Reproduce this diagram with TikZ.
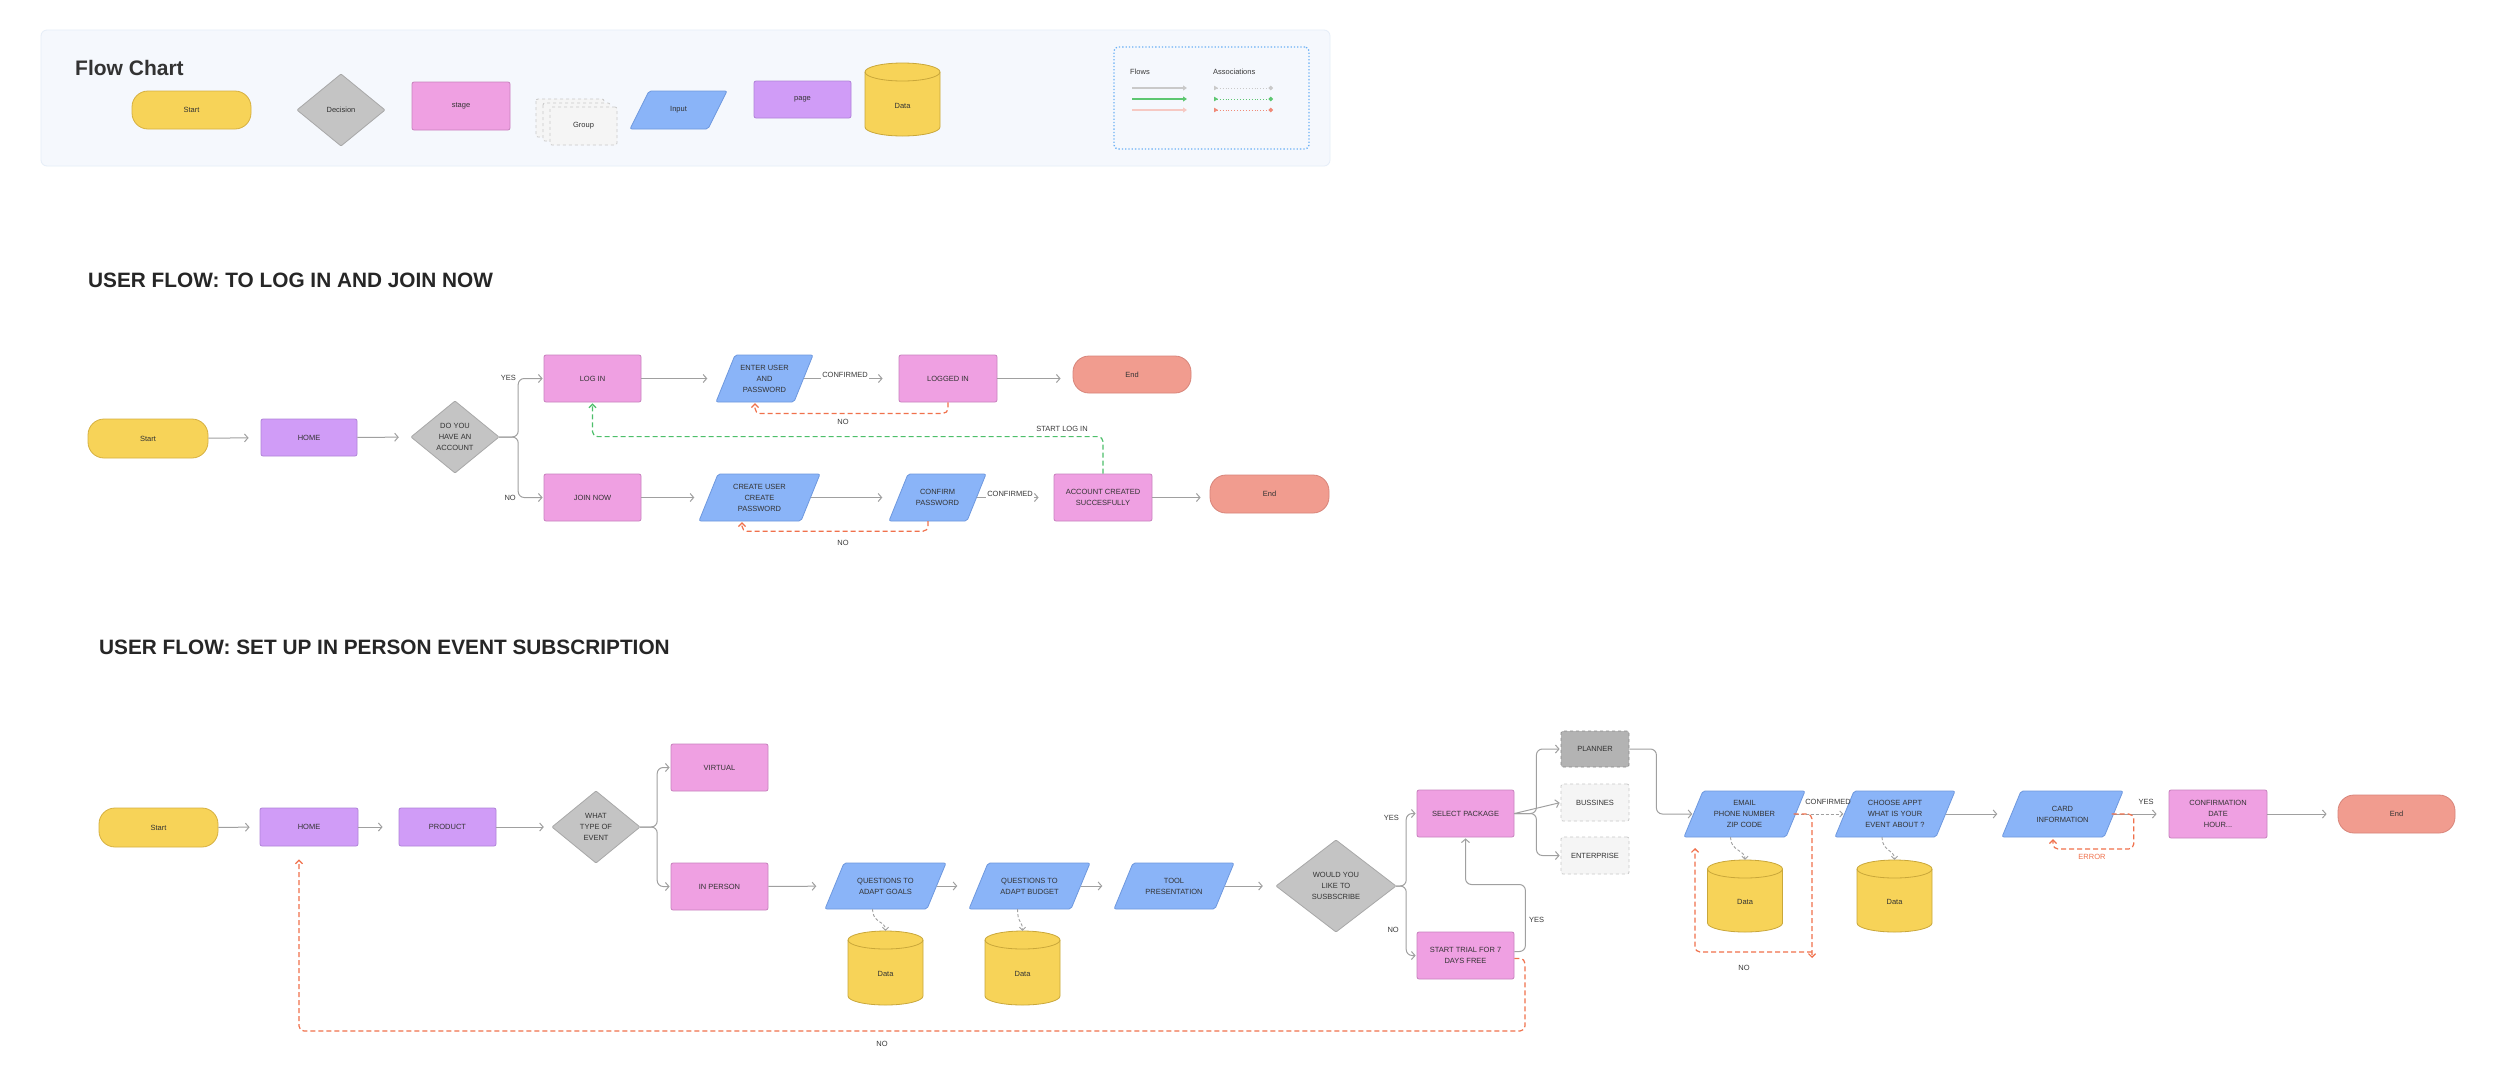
\documentclass[tikz,border=0pt]{standalone}
\usepackage{fontspec}
\setmainfont{Liberation Sans}
\usetikzlibrary{arrows.meta,calc}
\definecolor{txtc}{HTML}{333333}
\definecolor{lblc}{HTML}{3A3A3A}
\definecolor{yelF}{HTML}{F7D358}
\definecolor{yelB}{HTML}{D6B040}
\definecolor{cylB}{HTML}{C9A73A}
\definecolor{diaF}{HTML}{C4C4C4}
\definecolor{diaB}{HTML}{A8A8A8}
\definecolor{pinkF}{HTML}{EFA0E2}
\definecolor{pinkB}{HTML}{C882BE}
\definecolor{purF}{HTML}{D09CF7}
\definecolor{purB}{HTML}{B083D8}
\definecolor{bluF}{HTML}{8AB4F8}
\definecolor{bluB}{HTML}{6E98DE}
\definecolor{salF}{HTML}{F19C8F}
\definecolor{salB}{HTML}{D8857A}
\definecolor{panF}{HTML}{F5F8FD}
\definecolor{panB}{HTML}{E5EDF8}
\definecolor{legB}{HTML}{6BB0F5}
\definecolor{arrg}{HTML}{A0A0A0}
\definecolor{grnc}{HTML}{4DBF6A}
\definecolor{redc}{HTML}{F0714C}
\definecolor{plF}{HTML}{B3B3B3}
\definecolor{plB}{HTML}{8A8A8A}
\definecolor{ltF}{HTML}{F5F5F5}
\definecolor{ltB}{HTML}{C9C9C9}
\definecolor{lgGray}{HTML}{C9C9C9}
\definecolor{lgGreen}{HTML}{5DC771}
\definecolor{lgPink}{HTML}{F6C9C3}
\definecolor{lgRed}{HTML}{F08A78}
% parallelogram: name, cx, cy, w, h, text
\newcommand\Inp[6]{%
  \filldraw[inpsty] (#2-#4/2,#3+#5/2) -- (#2+#4/2-19,#3+#5/2) -- (#2+#4/2,#3-#5/2) -- (#2-#4/2+19,#3-#5/2) -- cycle;
  \node[txt, minimum width=#4-19, minimum height=#5] (#1) at (#2,#3) {#6};}
% diamond: name, cx, cy, hw, hh, text
\newcommand\Dia[6]{%
  \filldraw[diasty] (#2-#4,#3) -- (#2,#3-#5) -- (#2+#4,#3) -- (#2,#3+#5) -- cycle;
  \node[txt, minimum width=2*#4, minimum height=2*#5] (#1) at (#2,#3) {#6};}
% cylinder: name, cx, cy, w, h, text
\newcommand\Cyl[6]{%
  \filldraw[cylsty] (#2-#4/2,#3-#5/2+9) -- (#2-#4/2,#3+#5/2-9) arc[start angle=180, end angle=0, x radius=#4/2, y radius=9] -- (#2+#4/2,#3-#5/2+9) arc[start angle=0, end angle=-180, x radius=#4/2, y radius=9] -- cycle;
  \draw[cylsty, fill=none] (#2+#4/2,#3-#5/2+9) arc[start angle=0, end angle=180, x radius=#4/2, y radius=9];
  \node[minimum width=#4, minimum height=#5, inner sep=0pt] (#1) at (#2,#3) {};
  \node[txt] (#1t) at (#2,#3+6) {#6};}
\begin{document}
\begin{tikzpicture}[x=1pt,y=-1pt,
 txt/.style={font=\fontsize{7.5}{11}\selectfont, text=txtc, align=center, inner sep=0pt},
 lbl/.style={font=\fontsize{7.5}{9}\selectfont, text=lblc, inner sep=0pt},
 head/.style={font=\fontsize{20.8}{25}\selectfont\bfseries, text=black!85, inner sep=0pt, anchor=base west},
 term/.style={txt, draw=yelB, fill=yelF, line width=0.8pt, rounded corners=16pt},
 endbox/.style={term, draw=salB, fill=salF},
 stagebox/.style={txt, draw=pinkB, fill=pinkF, line width=0.8pt, rounded corners=2pt},
 pagebox/.style={txt, draw=purB, fill=purF, line width=0.8pt, rounded corners=2pt},
 inpsty/.style={draw=bluB, fill=bluF, line width=0.8pt, rounded corners=2pt},
 diasty/.style={draw=diaB, fill=diaF, line width=0.8pt, rounded corners=1pt},
 cylsty/.style={draw=cylB, fill=yelF, line width=0.8pt},
 optdark/.style={txt, draw=plB, fill=plF, dashed, line width=0.8pt, rounded corners=2pt},
 optlight/.style={txt, draw=ltB, fill=ltF, dashed, line width=0.8pt, rounded corners=2pt},
 grpbox/.style={draw=ltB, fill=ltF, dashed, line width=0.8pt, rounded corners=2pt},
 flow/.style={draw=arrg, line width=1pt, -{Straight Barb[length=3.5pt,width=8pt]}, shorten >=12pt},
 branch/.style={flow, rounded corners=6pt, shorten >=1pt},
 reddash/.style={draw=redc, line width=1.2pt, dash pattern=on 5pt off 3pt, -{Straight Barb[length=3.5pt,width=7pt]}, rounded corners=5pt},
 greendash/.style={reddash, draw=grnc},
 assoc/.style={draw=arrg, line width=0.9pt, dash pattern=on 3pt off 2pt, -{Straight Barb[length=3pt,width=6pt]}},
 whitelbl/.style={lbl, fill=white, inner sep=1.5pt},
]
\useasboundingbox (0,0) rectangle (2500,1085);
\fill[white] (0,0) rectangle (2500,1085);

% ---------------- legend panel ----------------
\filldraw[draw=panB, fill=panF, line width=0.8pt, rounded corners=6pt] (41,30) rectangle (1330,166);
\node[font=\fontsize{21}{25}\selectfont\bfseries, text=black!80, inner sep=0pt, anchor=base west] (title) at (75,75) {Flow Chart};
\node[term, minimum width=119, minimum height=38] (lgstart) at (191.5,110) {Start};
\Dia{lgdec}{341}{110}{44}{36}{Decision}
\node[stagebox, minimum width=98, minimum height=48] (lgstage) at (461,106) {stage};
\filldraw[grpbox] (536,99) rectangle (604,137);
\filldraw[grpbox] (543,103) rectangle (610,141);
\node[grpbox, txt, minimum width=67, minimum height=38] (lggroup) at (583.5,126) {Group};
\Inp{lginput}{678.5}{110}{97}{38}{Input}
\node[pagebox, minimum width=97, minimum height=37] (lgpage) at (802.5,99.5) {page};
\Cyl{lgdata}{902.5}{99.5}{75}{73}{Data}
\node[draw=legB, line width=1.3pt, dotted, rounded corners=4pt, minimum width=195, minimum height=102, inner sep=0pt] (lgbox) at (1211.5,98) {};
\node[lbl, anchor=west] (lgflows) at (1130,72) {Flows};
\node[lbl, anchor=west] (lgassoc) at (1213,72) {Associations};
\coordinate (fa1) at (1132,88); \coordinate (fb1) at (1187,88);
\coordinate (fa2) at (1132,99); \coordinate (fb2) at (1187,99);
\coordinate (fa3) at (1132,110); \coordinate (fb3) at (1187,110);
\draw[draw=lgGray, line width=1.2pt, -{Triangle[length=4pt,width=5pt]}] (fa1) -- (fb1);
\draw[draw=lgGreen, line width=1.2pt, -{Triangle[length=4pt,width=5pt]}] (fa2) -- (fb2);
\draw[draw=lgPink, line width=1.2pt, -{Triangle[length=4pt,width=5pt]}] (fa3) -- (fb3);
\coordinate (aa1) at (1214,88); \coordinate (ab1) at (1273,88);
\coordinate (aa2) at (1214,99); \coordinate (ab2) at (1273,99);
\coordinate (aa3) at (1214,110); \coordinate (ab3) at (1273,110);
\draw[draw=lgGray, line width=0.9pt, dotted, {Triangle[length=4pt,width=4.5pt,reversed]}-{Circle[length=4.5pt]}] (aa1) -- (ab1);
\draw[draw=lgGreen, line width=0.9pt, dotted, {Triangle[length=4pt,width=4.5pt,reversed]}-{Circle[length=4.5pt]}] (aa2) -- (ab2);
\draw[draw=lgRed, line width=0.9pt, dotted, {Triangle[length=4pt,width=4.5pt,reversed]}-{Circle[length=4.5pt]}] (aa3) -- (ab3);

% ---------------- headings ----------------
\node[head] (h1) at (88,287) {USER FLOW: TO LOG IN AND JOIN NOW};
\node[head] (h2) at (99,654) {USER FLOW: SET UP IN PERSON EVENT SUBSCRIPTION};

% ---------------- flow 1 ----------------
\node[term, minimum width=120, minimum height=39] (s1) at (148,438.5) {Start};
\node[pagebox, minimum width=96, minimum height=37] (home1) at (309,437.5) {HOME};
\Dia{d1}{455}{437}{44}{36}{DO YOU\\HAVE AN\\ACCOUNT}
\node[stagebox, minimum width=97, minimum height=47] (login) at (592.5,378.5) {LOG IN};
\node[stagebox, minimum width=97, minimum height=47] (join) at (592.5,497.5) {JOIN NOW};
\Inp{enter}{764.5}{378.5}{97}{47}{ENTER USER\\AND\\PASSWORD}
\node[stagebox, minimum width=98, minimum height=47] (logged) at (948,378.5) {LOGGED IN};
\node[endbox, minimum width=118, minimum height=37] (end1) at (1132,374.5) {End};
\Inp{create}{759.5}{497.5}{121}{47}{CREATE USER\\CREATE\\PASSWORD}
\Inp{confirm}{937.5}{497.5}{97}{47}{CONFIRM\\PASSWORD}
\node[stagebox, minimum width=98, minimum height=47] (acct) at (1103,497.5) {ACCOUNT CREATED\\SUCCESFULLY};
\node[endbox, minimum width=119, minimum height=38] (end2) at (1269.5,494) {End};

\draw[flow] (s1) -- (home1);
\draw[flow] (home1) -- (d1);
\draw[branch] (d1.east) -- ++(19,0) |- (login.west);
\draw[branch] (d1.east) -- ++(19,0) |- (join.west);
\node[lbl, anchor=east] (yes1) at (516,378) {YES};
\node[lbl, anchor=east] (no1) at (516,498) {NO};
\draw[flow, shorten >=18pt] (login) -- (enter);
\draw[flow, shorten >=16pt] (enter) -- (logged);
\node[whitelbl] (conf1) at (845,375) {CONFIRMED};
\draw[flow] (logged) -- (end1.west |- logged.east);
\draw[flow, shorten >=14pt] (join) -- (create);
\draw[flow, shorten >=16pt] (create) -- (confirm);
\draw[flow, shorten >=15pt] (confirm) -- (acct);
\node[whitelbl] (conf2) at (1010,494) {CONFIRMED};
\draw[flow, shorten >=9pt] (acct) -- (end2.west |- acct.east);
\draw[reddash, shorten >=1pt] (logged.south) -- ++(0,11) -| ([xshift=-9.5pt]enter.south);
\node[lbl] (no2) at (843,422) {NO};
\draw[reddash, shorten >=1pt] ([xshift=-9.5pt]confirm.south) -- ++(0,10) -| ([xshift=-17.5pt]create.south);
\node[lbl] (no3) at (843,543) {NO};
\draw[greendash, shorten >=1pt] (acct.north) -- ++(0,-37) -| (login.south);
\node[lbl] (startlog) at (1062,429) {START LOG IN};

% ---------------- flow 2 ----------------
\node[term, minimum width=119, minimum height=39] (s2) at (158.5,827.5) {Start};
\node[pagebox, minimum width=98, minimum height=38] (home2) at (309,827) {HOME};
\node[pagebox, minimum width=97, minimum height=38] (product) at (447.5,827) {PRODUCT};
\Dia{d2}{596}{827}{44}{36}{WHAT\\TYPE OF\\EVENT}
\node[stagebox, minimum width=97, minimum height=47] (virtual) at (719.5,767.5) {VIRTUAL};
\node[stagebox, minimum width=97, minimum height=47] (inperson) at (719.5,886.5) {IN PERSON};
\Inp{qgoals}{885.5}{886}{121}{46}{QUESTIONS TO\\ADAPT GOALS}
\Inp{qbudget}{1029.5}{886}{121}{46}{QUESTIONS TO\\ADAPT BUDGET}
\Inp{tool}{1174}{886}{120}{46}{TOOL\\PRESENTATION}
\Dia{d3}{1336}{886}{60}{46}{WOULD YOU\\LIKE TO\\SUSBSCRIBE}
\Cyl{cyl1}{885.5}{968}{75}{74}{Data}
\Cyl{cyl2}{1022.5}{968}{75}{74}{Data}
\node[stagebox, minimum width=97, minimum height=47] (select) at (1465.5,813.5) {SELECT PACKAGE};
\node[stagebox, minimum width=97, minimum height=47] (trial) at (1465.5,955.5) {START TRIAL FOR 7\\DAYS FREE};
\node[optdark, minimum width=68, minimum height=36] (planner) at (1595,749) {PLANNER};
\node[optlight, minimum width=68, minimum height=37] (bussines) at (1595,802.5) {BUSSINES};
\node[optlight, minimum width=68, minimum height=37] (enterprise) at (1595,855.5) {ENTERPRISE};
\Inp{email}{1744.5}{814}{121}{46}{EMAIL\\PHONE NUMBER\\ZIP CODE}
\Inp{choose}{1895}{814}{120}{46}{CHOOSE APPT\\WHAT IS YOUR\\EVENT ABOUT ?}
\Cyl{cyl3}{1745}{896}{75}{72}{Data}
\Cyl{cyl4}{1894.5}{896}{75}{72}{Data}
\Inp{card}{2062.5}{814}{121}{46}{CARD\\INFORMATION}
\node[stagebox, minimum width=98, minimum height=48] (confirmation) at (2218,814) {CONFIRMATION\\DATE\\HOUR...};
\node[endbox, minimum width=117, minimum height=38] (end3) at (2396.5,814) {End};

\draw[flow, shorten >=10pt] (s2) -- (home2);
\draw[flow, shorten >=16pt] (home2) -- (product);
\draw[flow, shorten >=8pt] (product) -- (d2);
\draw[branch] (d2.east) -- ++(17,0) |- (virtual.west);
\draw[branch] (d2.east) -- ++(17,0) |- (inperson.west);
\draw[flow, shorten >=18pt] (inperson) -- (qgoals);
\draw[flow, shorten >=21pt] (qgoals) -- (qbudget);
\draw[flow, shorten >=21pt] (qbudget) -- (tool);
\draw[flow, shorten >=13pt] (tool) -- (d3);
\draw[assoc] ([xshift=-13pt]qgoals.south) .. controls +(0,14) and +(0,-10) .. (cyl1.north);
\draw[assoc] ([xshift=-12pt]qbudget.south) .. controls +(0,14) and +(0,-10) .. (cyl2.north);
\draw[branch] (d3.east) -- ++(10,0) |- (select.west);
\draw[branch] (d3.east) -- ++(10,0) |- (trial.west);
\node[lbl, anchor=east] (yes2) at (1399,818) {YES};
\node[lbl, anchor=east] (no4) at (1399,930) {NO};
\draw[branch] ([yshift=4pt]trial.east) -- ++(11,0) -- ++(0,-67) -| (select.south);
\node[lbl, anchor=west] (yes3) at (1529,920) {YES};
\coordinate (rb) at (1525,1031);
\coordinate (lb) at (299,1031);
\draw[reddash, shorten >=13pt] ([yshift=-3pt]trial.east) -| (rb) -- (lb) -- ([xshift=-10pt]home2.south);
\node[lbl] (no5) at (882,1044) {NO};
\draw[branch] (select.east) -- ++(22,0) |- (planner.west);
\draw[branch] (select.east) -- (bussines.west);
\draw[branch] (select.east) -- ++(22,0) |- (enterprise.west);
\draw[branch] (planner.east) -- ++(27,0) |- (email.west);
\draw[assoc, shorten >=1pt] (email.east) -- (choose.west);
\node[lbl] (conf3) at (1828,802) {CONFIRMED};
\draw[assoc] ([xshift=-14pt]email.south) .. controls +(0,14) and +(0,-10) .. (cyl3.north);
\draw[assoc] ([xshift=-13pt]choose.south) .. controls +(0,14) and +(0,-10) .. (cyl4.north);
\coordinate (e1) at (1812,952);
\coordinate (e1b) at (1812,958);
\coordinate (e2) at (1695,952);
\coordinate (e3) at (1695,848);
\draw[reddash] ([xshift=-2pt]email.east) -| (e1b);
\draw[reddash] (e1) -- (e2) -- (e3);
\node[lbl] (no6) at (1744,968) {NO};
\draw[flow, shorten >=14pt] (choose) -- (card);
\draw[flow, shorten >=12pt] (card) -- (confirmation);
\node[lbl] (yes4) at (2146,802) {YES};
\draw[reddash, shorten >=2pt] ([xshift=-2pt]card.east) -- ++(22,0) -- ++(0,35) -| ([xshift=-9.5pt]card.south);
\node[lbl, text=redc] (err) at (2092,857) {ERROR};
\draw[flow, shorten >=11pt] (confirmation) -- (end3);
\end{tikzpicture}
\end{document}
